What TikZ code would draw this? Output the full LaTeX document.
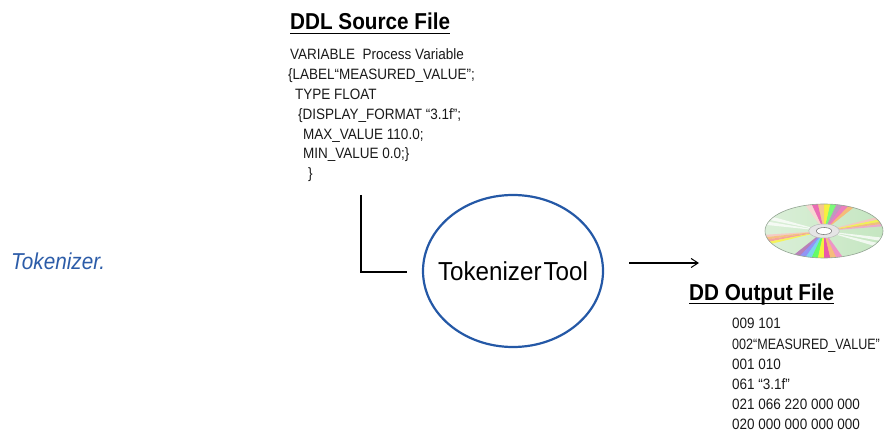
\documentclass[tikz,border=0pt]{standalone}
\usepackage{fontspec}
\setmainfont{Liberation Sans}
\newfontfamily\narrowsans[FakeStretch=0.9]{Liberation Sans}
\newfontfamily\toolsans[FakeStretch=0.93]{Liberation Sans}
\usetikzlibrary{shapes.geometric,arrows.meta}

\definecolor{toolblue}{RGB}{36,88,166}
\definecolor{labelblue}{RGB}{44,92,168}
\definecolor{cdbase}{RGB}{196,230,192}
\definecolor{cdrim}{RGB}{150,165,150}

\tikzset{
  codetext/.style={anchor=base west, inner sep=0pt, font=\narrowsans\fontsize{15}{17}\selectfont, text=black!90},
  titletext/.style={anchor=base west, inner sep=0pt, font=\narrowsans\fontsize{23}{26}\selectfont\bfseries},
  titleline/.style={line width=1.6pt},
  link/.style={line width=1.8pt, black},
  flow/.style={line width=1.4pt, -{Straight Barb[length=7pt, width=9pt, line width=1pt]}},
  toolshape/.style={ellipse, draw=toolblue, line width=2.2pt, minimum width=180pt, minimum height=152pt,
    inner xsep=-14pt, inner ysep=0pt, font=\toolsans\fontsize{26}{28}\selectfont}
}

\begin{document}
\begin{tikzpicture}[x=1pt, y=-1pt]
  \useasboundingbox (0,0) rectangle (893,435);

  % side caption
  \node[anchor=base west, inner sep=0pt, text=labelblue, font=\narrowsans\fontsize{23}{25}\selectfont\itshape] (caption) at (11,270) {Tokenizer.};

  % DDL source listing
  \node[titletext] (srctitle) at (290,30) {DDL Source File};
  \draw[titleline] ([yshift=-3.5pt]srctitle.base west) -- ([yshift=-3.5pt]srctitle.base east);
  \node[codetext] (src1) at (290,60)  {VARIABLE\ \ Process Variable};
  \node[codetext] (src2) at (288,80)  {\{LABEL“MEASURED\_VALUE”;};
  \node[codetext] (src3) at (295,100) {TYPE FLOAT};
  \node[codetext] (src4) at (298,120) {\{DISPLAY\_FORMAT “3.1f”;};
  \node[codetext] (src5) at (303,140) {MAX\_VALUE 110.0;};
  \node[codetext] (src6) at (303,159) {MIN\_VALUE 0.0;\}};
  \node[codetext] (src7) at (308,179) {\}};

  % tokenizer
  \node[toolshape] (tool) at (513,271) {Tokenizer\hspace{2pt}Tool};

  % connector from listing into the tool
  \coordinate (lstart) at (361,195);
  \coordinate (lend) at (407,272);
  \draw[link] (lstart) |- (lend);

  % output arrow
  \coordinate (astart) at (629,263);
  \coordinate (aend) at (699,263);
  \draw[flow] (astart) -- (aend);

  % compact disc
  \begin{scope}[shift={(824,231)}, xscale=59, yscale=-27, rotate=6]
    \fill[cdbase] (0,0) circle (1);
    \begin{scope}
      \clip (0,0) circle (1);
      \shade[left color=cdbase!40!white, right color=cdbase, opacity=0.7] (-1,-1) rectangle (1,1);
      % white glare streaks
      \foreach \a in {155,166,333,345}
        \fill[white, opacity=0.75] (0,0) -- (\a:1.5) -- (\a+7:1.5) -- cycle;
      % upper rainbow fan
      \foreach \a/\c in {66/orange!60, 72/magenta!60, 78/violet!50, 84/green!60, 90/yellow!90, 96/orange!50, 102/magenta!70, 108/pink!70}
        \fill[\c, opacity=0.8] (0,0) -- (\a:1.5) -- (\a+6.2:1.5) -- cycle;
      % lower rainbow fan
      \foreach \a/\c in {246/violet!60, 252/blue!50, 258/cyan!60, 264/green!70, 270/yellow!90, 276/magenta!80, 282/orange!60, 288/magenta!50}
        \fill[\c, opacity=0.8] (0,0) -- (\a:1.5) -- (\a+6.2:1.5) -- cycle;
      % side streaks
      \foreach \a/\c in {16/magenta!40, 21/orange!60, 26/yellow!80, 31/pink}
        \fill[\c, opacity=0.75] (0,0) -- (\a:1.5) -- (\a+5:1.5) -- cycle;
      \foreach \a/\c in {194/pink, 199/orange!60, 204/red!45, 209/yellow!80}
        \fill[\c, opacity=0.75] (0,0) -- (\a:1.5) -- (\a+5:1.5) -- cycle;
    \end{scope}
    \draw[cdrim, line width=0.6pt] (0,0) circle (1);
    \fill[gray!20] (0,0) circle (0.26);
    \draw[gray!55, line width=0.5pt] (0,0) circle (0.26);
    \fill[white] (0,0) circle (0.13);
    \draw[gray, line width=0.6pt] (0,0) circle (0.13);
  \end{scope}

  % DD output listing
  \node[titletext] (outtitle) at (689,300) {DD Output File};
  \draw[titleline] ([yshift=-3.5pt]outtitle.base west) -- ([yshift=-3.5pt]outtitle.base east);
  \node[codetext] (out1) at (732,328) {009 101};
  \node[codetext] (out2) at (732,349) {\scalebox{0.93}[1]{002“MEASURED\_VALUE”}};
  \node[codetext] (out3) at (732,369) {001 010};
  \node[codetext] (out4) at (732,389) {061 “3.1f”};
  \node[codetext] (out5) at (732,409) {021 066 220 000 000};
  \node[codetext] (out6) at (732,429) {020 000 000 000 000};
\end{tikzpicture}
\end{document}
